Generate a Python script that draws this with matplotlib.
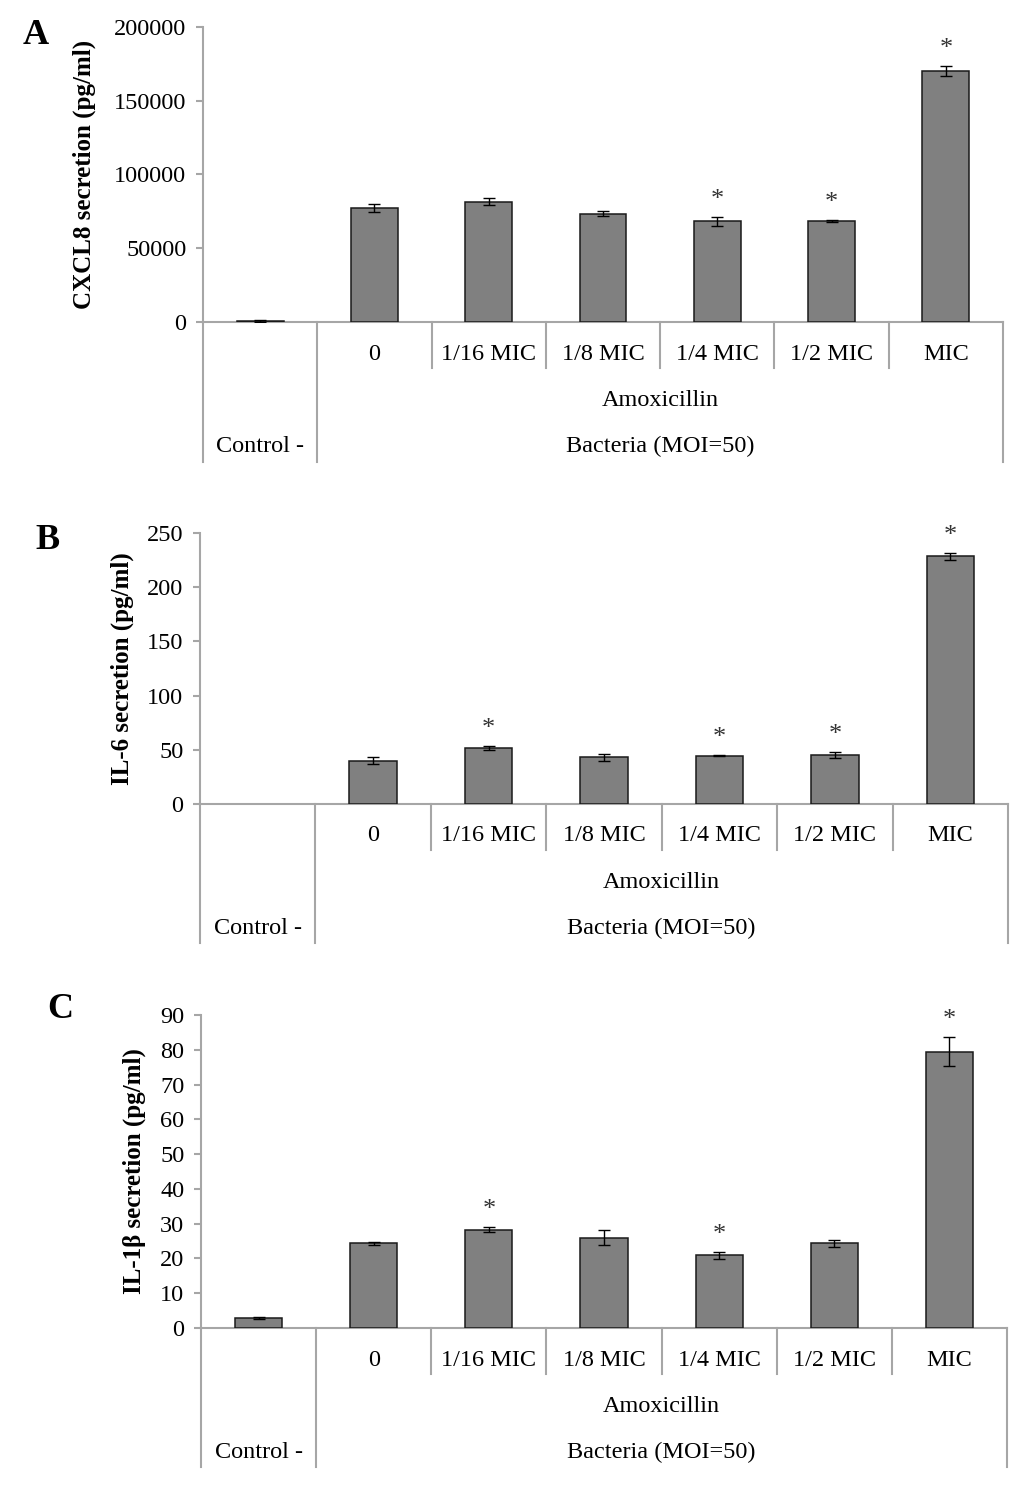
import matplotlib
matplotlib.use("Agg")
import matplotlib.pyplot as plt
from matplotlib import transforms

W, H, DPI = 1024, 1488, 100

categories = ["Control -", "0", "1/16 MIC", "1/8 MIC", "1/4 MIC", "1/2 MIC", "MIC"]
group_mid = "Amoxicillin"
group_top = ["Control -", "Bacteria (MOI=50)"]

cxcl8 = [500, 77100, 81600, 73500, 68300, 68400, 170200]
cxcl8_err = [700, 2700, 2500, 1700, 3100, 800, 3200]
cxcl8_sig = [False, False, False, False, True, True, True]

il6 = [0, 39.9, 51.3, 43.3, 44.5, 45.1, 228.5]
il6_err = [0, 3.0, 1.8, 3.2, 0.6, 3.0, 3.0]
il6_sig = [False, False, True, False, True, True, True]

il1b = [2.9, 24.3, 28.3, 26.0, 20.9, 24.3, 79.5]
il1b_err = [0.4, 0.3, 0.6, 2.2, 1.0, 1.1, 4.1]
il1b_sig = [False, False, True, False, True, False, True]

SERIF = "Liberation Serif"
GREY = "#a6a6a6"
FS = 17.5


def draw_panel(fig, geom, vals, errs, sig, ymax, ystep, ylabel, letter, letter_xy, label_x):
    left, right, top, zero, bottom = geom
    ax = fig.add_axes([left / W, 1 - zero / H, (right - left) / W, (zero - top) / H])
    x = list(range(len(vals)))
    bx = [i for i in x if vals[i] > 0]
    ax.bar(bx, [vals[i] for i in bx], width=0.41, color="#808080", edgecolor="#1a1a1a",
           linewidth=1.1, zorder=3)
    ex = [i for i in x if errs[i] > 0]
    ax.errorbar(ex, [vals[i] for i in ex], yerr=[errs[i] for i in ex], fmt="none",
                ecolor="black", elinewidth=1.0, capsize=4, capthick=1.0, zorder=4)
    ax.set_xlim(-0.5, len(vals) - 0.5)
    ax.set_ylim(0, ymax)
    ax.set_yticks([ystep * k for k in range(int(round(ymax / ystep)) + 1)])
    ax.set_xticks([])
    for s in ("top", "right"):
        ax.spines[s].set_visible(False)
    for s in ("left", "bottom"):
        ax.spines[s].set_color(GREY)
        ax.spines[s].set_linewidth(1.5)
    ax.tick_params(axis="y", direction="out", length=5, width=1.5, color=GREY,
                   labelsize=FS, pad=7)
    for t in ax.get_yticklabels():
        t.set_family(SERIF)

    # significance stars, a fixed pixel offset above the error bar
    px_per_unit = (zero - top) / ymax
    for i in x:
        if sig[i]:
            ytop = vals[i] + errs[i] + 17 / px_per_unit
            ax.text(i, ytop, "*", ha="center", va="center", fontsize=19,
                    family=SERIF, color="#333333", clip_on=False)

    # multi-level category axis below
    tr = transforms.blended_transform_factory(ax.transData, fig.transFigure)

    def fy(px):
        return 1 - px / H

    line_kw = dict(color=GREY, linewidth=1.5, transform=tr, clip_on=False)
    for xb in (-0.5, 0.5, len(vals) - 0.5):
        ax.plot([xb, xb], [fy(zero), fy(bottom)], **line_kw)
    for k in range(1, len(vals) - 1):
        ax.plot([k + 0.5, k + 0.5], [fy(zero), fy(zero + 46)], **line_kw)
    for i in range(1, len(vals)):
        ax.text(i, fy(zero + 32), categories[i], ha="center", va="center",
                fontsize=FS, family=SERIF, transform=tr)
    mid = (0.5 + len(vals) - 0.5) / 2
    ax.text(mid, fy(zero + 78), group_mid, ha="center", va="center",
            fontsize=FS, family=SERIF, transform=tr)
    ax.text(0, fy(zero + 124), group_top[0], ha="center", va="center",
            fontsize=FS, family=SERIF, transform=tr)
    ax.text(mid, fy(zero + 124), group_top[1], ha="center", va="center",
            fontsize=FS, family=SERIF, transform=tr)

    fig.text(label_x / W, 1 - (top + zero) / 2 / H, ylabel, rotation=90, ha="center",
             va="center", fontsize=18, fontweight="bold", family=SERIF)
    fig.text(letter_xy[0] / W, 1 - letter_xy[1] / H, letter, ha="center", va="center",
             fontsize=26, fontweight="bold", family=SERIF)
    return ax


fig = plt.figure(figsize=(W / DPI, H / DPI), dpi=DPI)
draw_panel(fig, (203, 1003, 27, 322, 462), cxcl8, cxcl8_err, cxcl8_sig,
           200000, 50000, "CXCL8 secretion (pg/ml)", "A", (36, 35), 84)
draw_panel(fig, (200, 1008, 533, 804, 943), il6, il6_err, il6_sig,
           250, 50, "IL-6 secretion (pg/ml)", "B", (47, 541), 122)
draw_panel(fig, (201, 1007, 1015, 1328, 1467), il1b, il1b_err, il1b_sig,
           90, 10, "IL-1β secretion (pg/ml)", "C", (60, 1010), 134)
fig.savefig("out.png", dpi=DPI)
